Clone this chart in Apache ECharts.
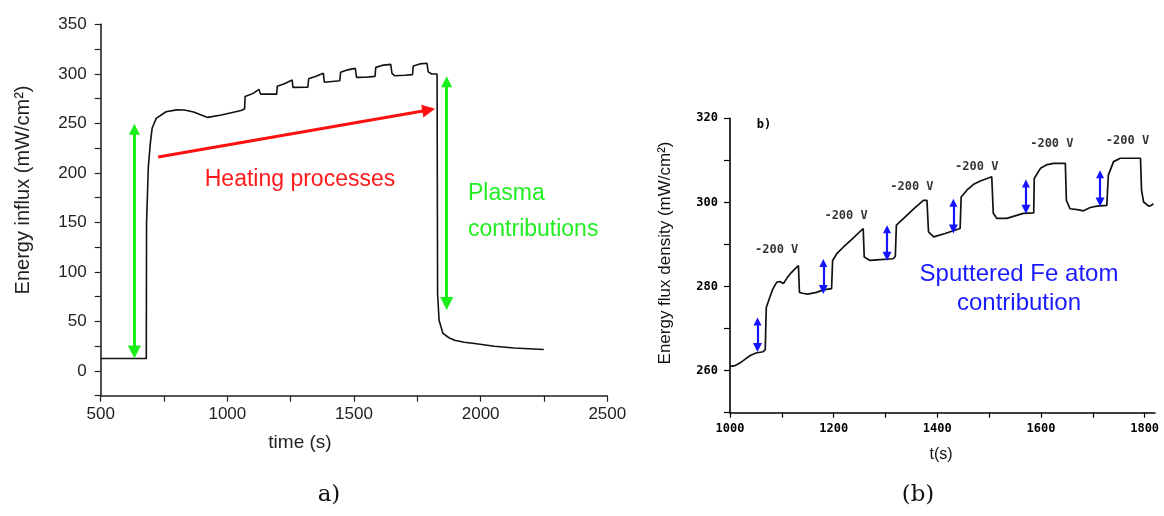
<!DOCTYPE html>
<html>
<head>
<meta charset="utf-8">
<title>Energy influx and energy flux density</title>
<script src="https://cdn.jsdelivr.net/npm/echarts@6/dist/echarts.min.js"></script>
<style>
  html, body { margin: 0; padding: 0; background: #fff; }
  #chart { width: 1164px; height: 516px; }
</style>
</head>
<body>
<div id="chart"></div>
<script>
// ---- (a) energy influx over a whole run ----
const timeA = [500, 680, 681, 688, 696, 703, 719, 758, 800, 830, 867, 922, 976, 1020, 1054, 1068,
  1070, 1100, 1125, 1131, 1195, 1197, 1225, 1256, 1259, 1318, 1321, 1350, 1379, 1383, 1444,
  1447, 1475, 1505, 1510, 1545, 1583, 1586, 1610, 1645, 1650, 1660, 1700, 1731, 1734, 1760,
  1788, 1793, 1807, 1828, 1830, 1836, 1851, 1875, 1897, 1935, 1976, 2054, 2132, 2249];
const influxA = [12.5, 12.5, 149, 206, 230, 245, 255, 261.7, 263.6, 263.5, 261.5, 256, 258.4, 261, 263, 264.5,
  277, 280, 284.3, 279.5, 279.5, 287.5, 290, 293.7, 286.3, 286.5, 295, 297.5, 300.5, 291.5, 293,
  301.5, 304, 305.5, 296.4, 296.5, 297.4, 306.5, 308.5, 309.5, 300.5, 298, 298.5, 299.2, 308, 310,
  310.6, 302, 299.8, 299.8, 78, 51, 38, 33.5, 31, 29, 27.7, 25, 23.2, 21.6];
const xTicksA = [500, 1000, 1500, 2000, 2500];
const yTicksA = [0, 50, 100, 150, 200, 250, 300, 350];

// plasma contribution arrows (time, upper end, lower end)
const plasmaArrowT = [633, 1866];
const plasmaArrowTop = [244, 292];
const plasmaArrowBottom = [19, 68];
// heating trend arrow
const heatingFrom = [727, 216];
const heatingTo = [1795, 263.5];

// ---- (b) detail of the -200 V pulses ----
const timeB = [1000, 1010, 1019, 1030, 1039, 1050, 1064, 1068, 1070, 1077, 1083, 1090, 1096, 1103, 1110,
  1116, 1124, 1132, 1134, 1140, 1150, 1167, 1180, 1196, 1198, 1206, 1219, 1235, 1257, 1259, 1270,
  1290, 1315, 1319, 1321, 1335, 1355, 1373, 1380, 1383, 1393, 1415, 1444, 1446, 1457, 1470, 1483,
  1505, 1508, 1515, 1534, 1550, 1566, 1586, 1587, 1599, 1612, 1624, 1647, 1649, 1656, 1670, 1682,
  1695, 1708, 1727, 1730, 1740, 1753, 1792, 1794, 1798, 1808, 1813, 1817];
const fluxB = [261, 261.2, 261.8, 262.8, 263.6, 264.2, 264.5, 265, 275, 277.5, 279.5, 281, 281.2, 280.7, 282,
  283, 284, 285, 278.6, 278.4, 278.2, 278.6, 279.2, 279.5, 286.2, 287.8, 289.4, 291.2, 293.8, 287, 286.2,
  286.4, 286.6, 287.2, 294.6, 296.2, 298.5, 300.5, 300.5, 293, 291.8, 292.6, 293.8, 301.3, 302.9, 304.3, 305.1,
  306.1, 297.4, 296.2, 296.2, 296.8, 297.4, 297.5, 305.7, 308.1, 309, 309.3, 309.3, 300.5, 298.5, 298.3, 298,
  298.8, 299.1, 299.3, 306.5, 309.7, 310.5, 310.5, 302.9, 300.1, 299.1, 299.3, 299.7];
const xTicksB = [1000, 1200, 1400, 1600, 1800];
const yTicksB = [260, 280, 300, 320];

// sputtered Fe atom contribution arrows (time, upper end, lower end)
const feArrowT = [1053, 1180, 1303, 1431, 1571, 1714];
const feArrowTop = [271.7, 285.6, 293.6, 299.9, 304.5, 306.7];
const feArrowBottom = [265.5, 279.3, 287.2, 293.7, 298.4, 300.1];
// bias pulse labels (time, flux)
const pulseT = [1090, 1224, 1351, 1476, 1621, 1767];
const pulseFlux = [288.8, 296.7, 303.6, 308.5, 314, 314.7];
const pulseText = '-200 V';

const sans = '"Liberation Sans", Arial, sans-serif';
const mono = '"DejaVu Sans Mono", monospace';

function pairs(xs, ys) { return xs.map((x, i) => [x, ys[i]]); }
function range(from, to, step) { const r = []; for (let v = from; v <= to + 1e-9; v += step) r.push(v); return r; }

const chart = echarts.init(document.getElementById('chart'), null, { renderer: 'canvas' });

chart.setOption({
  animation: false,
  backgroundColor: '#ffffff',
  grid: [
    { left: 100.7, top: 24.3, width: 506.6, height: 371.4 },
    { left: 730, top: 118.3, width: 425, height: 294.4 }
  ],
  xAxis: [
    {
      gridIndex: 0, type: 'value', min: 500, max: 2500, interval: 250,
      axisLine: { onZero: false, lineStyle: { color: '#222', width: 1.6 } },
      axisTick: { length: 6, lineStyle: { color: '#222', width: 1.2 } },
      axisLabel: {
        margin: 10, fontSize: 17, fontFamily: sans, color: '#222',
        formatter: v => xTicksA.includes(v) ? String(v) : ''
      },
      splitLine: { show: false }
    },
    {
      gridIndex: 1, type: 'value', min: 1000, max: 1820,
      axisLine: { onZero: false, lineStyle: { color: '#000', width: 1.6 } },
      axisTick: { length: 5, customValues: range(1000, 1800, 100), lineStyle: { color: '#000', width: 1.2 } },
      axisLabel: {
        margin: 10, fontSize: 12, fontWeight: 'bold', fontFamily: mono, color: '#000',
        customValues: xTicksB,
        formatter: v => xTicksB.includes(v) ? String(v) : ''
      },
      splitLine: { show: false }
    }
  ],
  yAxis: [
    {
      gridIndex: 0, type: 'value', min: -25, max: 350, interval: 25,
      axisLine: { onZero: false, lineStyle: { color: '#222', width: 1.6 } },
      axisTick: { length: 6, lineStyle: { color: '#222', width: 1.2 } },
      axisLabel: {
        margin: 14, fontSize: 17, fontFamily: sans, color: '#222',
        formatter: v => yTicksA.includes(v) ? String(v) : ''
      },
      splitLine: { show: false }
    },
    {
      gridIndex: 1, type: 'value', min: 250, max: 320, interval: 10,
      axisLine: { onZero: false, lineStyle: { color: '#000', width: 1.6 } },
      axisTick: { length: 6, lineStyle: { color: '#000', width: 1.2 } },
      axisLabel: {
        margin: 12, fontSize: 12, fontWeight: 'bold', fontFamily: mono, color: '#000',
        formatter: v => yTicksB.includes(v) ? String(v) : ''
      },
      splitLine: { show: false }
    }
  ],
  series: [
    {
      name: 'influx', type: 'line', xAxisIndex: 0, yAxisIndex: 0,
      data: pairs(timeA, influxA), showSymbol: false, symbol: 'none',
      lineStyle: { color: '#111', width: 1.6 }, z: 3
    },
    {
      name: 'plasma', type: 'lines', coordinateSystem: 'cartesian2d', xAxisIndex: 0, yAxisIndex: 0,
      symbol: ['triangle', 'triangle'], symbolSize: [11, 13],
      lineStyle: { color: '#19f019', width: 3, opacity: 1 },
      data: plasmaArrowT.map((t, i) => ({ coords: [[t, plasmaArrowTop[i]], [t, plasmaArrowBottom[i]]] })),
      z: 4
    },
    {
      name: 'heating', type: 'lines', coordinateSystem: 'cartesian2d', xAxisIndex: 0, yAxisIndex: 0,
      symbol: ['none', 'triangle'], symbolSize: [11, 13],
      lineStyle: { color: '#ff1010', width: 3.2, opacity: 1 },
      data: [{ coords: [heatingFrom, heatingTo] }],
      z: 4
    },
    {
      name: 'flux', type: 'line', xAxisIndex: 1, yAxisIndex: 1,
      data: pairs(timeB, fluxB), showSymbol: false, symbol: 'none',
      lineStyle: { color: '#111', width: 1.7 }, z: 3
    },
    {
      name: 'fe', type: 'lines', coordinateSystem: 'cartesian2d', xAxisIndex: 1, yAxisIndex: 1,
      symbol: ['triangle', 'triangle'], symbolSize: [8, 9],
      lineStyle: { color: '#1414ff', width: 2.2, opacity: 1 },
      data: feArrowT.map((t, i) => ({ coords: [[t, feArrowTop[i]], [t, feArrowBottom[i]]] })),
      z: 4
    },
    {
      name: 'pulse', type: 'scatter', xAxisIndex: 1, yAxisIndex: 1,
      data: pairs(pulseT, pulseFlux), symbolSize: 1,
      itemStyle: { color: 'transparent' },
      label: {
        show: true, position: 'inside', formatter: pulseText,
        fontFamily: mono, fontWeight: 'bold', fontSize: 12, color: '#000'
      },
      silent: true, z: 5
    }
  ],
  graphic: [
    {
      type: 'text', x: 23, y: 190, rotation: Math.PI / 2,
      style: { text: 'Energy influx (mW/cm²)', font: '20px ' + sans, fill: '#222', align: 'center', verticalAlign: 'middle' }
    },
    {
      type: 'text', x: 300, y: 443,
      style: { text: 'time (s)', font: '19px ' + sans, fill: '#222', align: 'center', verticalAlign: 'middle' }
    },
    {
      type: 'text', x: 300, y: 180,
      style: { text: 'Heating processes', font: '23px ' + sans, fill: '#ff1a1a', align: 'center', verticalAlign: 'middle' }
    },
    {
      type: 'text', x: 468, y: 194,
      style: { text: 'Plasma', font: '23px ' + sans, fill: '#22ee22', align: 'left', verticalAlign: 'middle' }
    },
    {
      type: 'text', x: 468, y: 230,
      style: { text: 'contributions', font: '23px ' + sans, fill: '#22ee22', align: 'left', verticalAlign: 'middle' }
    },
    {
      type: 'text', x: 1019, y: 274,
      style: { text: 'Sputtered Fe atom', font: '24px ' + sans, fill: '#1a1aff', align: 'center', verticalAlign: 'middle' }
    },
    {
      type: 'text', x: 1019, y: 303,
      style: { text: 'contribution', font: '24px ' + sans, fill: '#1a1aff', align: 'center', verticalAlign: 'middle' }
    },
    {
      type: 'text', x: 665.5, y: 253, rotation: Math.PI / 2,
      style: { text: 'Energy flux density (mW/cm²)', font: '17px ' + sans, fill: '#111', align: 'center', verticalAlign: 'middle' }
    },
    {
      type: 'text', x: 941, y: 455,
      style: { text: 't(s)', font: '16px ' + sans, fill: '#111', align: 'center', verticalAlign: 'middle' }
    },
    {
      type: 'text', x: 764, y: 124.5,
      style: { text: 'b)', font: 'bold 12px ' + mono, fill: '#000', align: 'center', verticalAlign: 'middle' }
    },
    {
      type: 'text', x: 329, y: 495,
      style: { text: 'a)', font: '23px "DejaVu Serif", "Liberation Serif", serif', fill: '#111', align: 'center', verticalAlign: 'middle' }
    },
    {
      type: 'text', x: 918, y: 495,
      style: { text: '(b)', font: '23px "DejaVu Serif", "Liberation Serif", serif', fill: '#111', align: 'center', verticalAlign: 'middle' }
    }
  ]
});
</script>
</body>
</html>
